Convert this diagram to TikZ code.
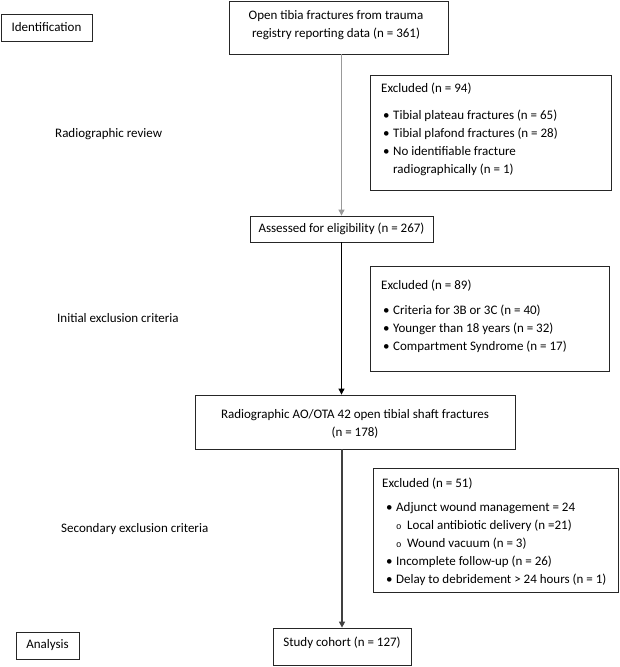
\documentclass[tikz,border=0pt]{standalone}
\usepackage{fontspec}
\setmainfont{Carlito}
\newfontfamily\monof{Liberation Mono}
\usetikzlibrary{arrows.meta}
\newcommand\blt{\makebox[10pt][l]{•}}
\newcommand\sblt{\makebox[11pt][l]{\monof\fontsize{9}{9}\selectfont o}}
\begin{document}
\begin{tikzpicture}[x=1pt,y=-1pt,
  every node/.style={font=\fontsize{13}{18}\selectfont},
  box/.style={draw=black!85, line width=0.8pt, inner sep=0pt, align=center},
  lst/.style={anchor=north west, inner sep=0pt, align=left},
  conn/.style={-{Triangle[length=6pt,width=6pt]}, line width=0.9pt}]
\useasboundingbox (0,0) rectangle (620,667);
% stage labels
\node[box, minimum width=91pt, minimum height=27pt] (ident) at (46.5,27.5) {Identification};
\node[anchor=west, inner sep=0pt] (rev) at (55,134) {Radiographic review};
\node[anchor=west, inner sep=0pt] (init) at (57,318) {Initial exclusion criteria};
\node[anchor=west, inner sep=0pt] (sec) at (61,529) {Secondary exclusion criteria};
\node[box, minimum width=63pt, minimum height=27pt] (ana) at (47.5,645.5) {Analysis};
% main flow
\node[box, minimum width=219pt, minimum height=53pt] (top) at (338.5,27.5) {};
\node[inner sep=0pt, align=center] (topt) at (336,25) {Open tibia fractures from trauma\\registry reporting data (n = 361)};
\node[box, minimum width=183pt, minimum height=26pt] (ass) at (341.5,229) {Assessed for eligibility (n = 267)};
\node[box, minimum width=320pt, minimum height=54pt] (rad) at (355,422) {\rule{0pt}{13pt}Radiographic AO/OTA 42 open tibial shaft fractures\\(n = 178)};
\node[box, minimum width=138pt, minimum height=37pt] (stu) at (342,646.5) {\raisebox{0pt}[0pt][0pt]{Study cohort (n = 127)}};
% exclusion boxes
\node[box, minimum width=241pt, minimum height=115pt, anchor=north west] (ex1) at (370,75) {};
\node[lst] (ex1t) at ([xshift=11pt,yshift=-8pt]ex1.north west) {Excluded (n = 94)\\[9pt]
\hspace*{2pt}\blt Tibial plateau fractures (n = 65)\\
\hspace*{2pt}\blt Tibial plafond fractures (n = 28)\\
\hspace*{2pt}\blt No identifiable fracture\\
\hspace*{12pt}radiographically (n = 1)};
\node[box, minimum width=239pt, minimum height=105pt, anchor=north west] (ex2) at (370,266) {};
\node[lst] (ex2t) at ([xshift=11pt,yshift=-14pt]ex2.north west) {Excluded (n = 89)\\[7pt]
\hspace*{2pt}\blt Criteria for 3B or 3C (n = 40)\\
\hspace*{2pt}\blt Younger than 18 years (n = 32)\\
\hspace*{2pt}\blt Compartment Syndrome (n = 17)};
\node[box, minimum width=245pt, minimum height=124pt, anchor=north west] (ex3) at (373,468) {};
\node[lst] (ex3t) at ([xshift=9pt,yshift=-10pt]ex3.north west) {Excluded (n = 51)\\[6pt]
\hspace*{4pt}\blt Adjunct wound management = 24\\
\hspace*{14pt}\sblt Local antibiotic delivery (n =21)\\
\hspace*{14pt}\sblt Wound vacuum (n = 3)\\
\hspace*{4pt}\blt Incomplete follow-up (n = 26)\\
\hspace*{4pt}\blt Delay to debridement > 24 hours (n = 1)};
% connectors
\draw[conn, draw=gray!80] (top.south -| ass.north) -- (ass.north);
\draw[conn] (ass.south) -- (ass.south |- rad.north);
\draw[conn, draw=black!75, line width=1.4pt] (stu.north |- rad.south) -- (stu.north);
\end{tikzpicture}
\end{document}
